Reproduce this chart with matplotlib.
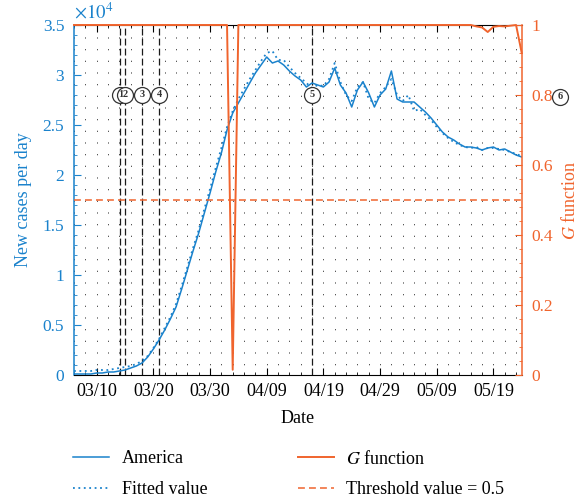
import matplotlib
matplotlib.use("Agg")
import matplotlib.pyplot as plt
from matplotlib.ticker import FixedLocator, MultipleLocator, FuncFormatter

plt.rcParams["font.family"] = ["Liberation Serif", "DejaVu Serif"]
plt.rcParams["mathtext.fontset"] = "stix"

BLUE = "#1A82CC"
ORANGE = "#F0642D"

# day 0 = 03/01, data runs 03/06 .. 05/24
days = list(range(5, 85))

america = [0.01, 0.01, 0.01, 0.01, 0.02, 0.02, 0.03, 0.03, 0.04, 0.05,
           0.07, 0.09, 0.12, 0.18, 0.26, 0.35, 0.45, 0.56, 0.68, 0.86,
           1.05, 1.24, 1.42, 1.62, 1.82, 2.03, 2.22, 2.45, 2.62, 2.72,
           2.82, 2.92, 3.02, 3.10, 3.18, 3.12, 3.14, 3.10, 3.04, 2.99,
           2.95, 2.88, 2.92, 2.90, 2.88, 2.93, 3.07, 2.90, 2.82, 2.68,
           2.85, 2.93, 2.82, 2.68, 2.80, 2.86, 3.04, 2.76, 2.73, 2.73,
           2.73, 2.68, 2.63, 2.57, 2.50, 2.43, 2.38, 2.35, 2.31, 2.28,
           2.28, 2.27, 2.25, 2.27, 2.28, 2.25, 2.26, 2.23, 2.20, 2.18]

fitted = [0.04, 0.04, 0.04, 0.04, 0.05, 0.05, 0.05, 0.06, 0.07, 0.08,
          0.09, 0.11, 0.14, 0.19, 0.27, 0.36, 0.47, 0.58, 0.71, 0.89,
          1.08, 1.27, 1.45, 1.66, 1.86, 2.07, 2.27, 2.48, 2.64, 2.76,
          2.86, 2.96, 3.05, 3.14, 3.22, 3.24, 3.15, 3.15, 3.08, 3.02,
          2.97, 2.92, 2.87, 2.90, 2.89, 2.96, 3.12, 2.93, 2.80, 2.74,
          2.88, 2.93, 2.76, 2.72, 2.82, 2.88, 2.96, 2.80, 2.74, 2.80,
          2.64, 2.66, 2.60, 2.55, 2.48, 2.42, 2.37, 2.33, 2.30, 2.28,
          2.27, 2.28, 2.25, 2.27, 2.27, 2.26, 2.25, 2.23, 2.21, 2.19]

g_func = [1.0, 1.0, 1.0, 1.0, 1.0, 1.0, 1.0, 1.0, 1.0, 1.0,
          1.0, 1.0, 1.0, 1.0, 1.0, 1.0, 1.0, 1.0, 1.0, 1.0,
          1.0, 1.0, 1.0, 1.0, 1.0, 1.0, 1.0, 1.0, 0.015, 1.0,
          1.0, 1.0, 1.0, 1.0, 1.0, 1.0, 1.0, 1.0, 1.0, 1.0,
          1.0, 1.0, 1.0, 1.0, 1.0, 1.0, 1.0, 1.0, 1.0, 1.0,
          1.0, 1.0, 1.0, 1.0, 1.0, 1.0, 1.0, 1.0, 1.0, 1.0,
          1.0, 1.0, 1.0, 1.0, 1.0, 1.0, 1.0, 1.0, 1.0, 1.0,
          1.0, 0.996, 0.993, 0.98, 0.995, 0.997, 0.996, 0.998, 1.0, 0.92]

threshold = 0.5

tick_days = [9, 19, 29, 39, 49, 59, 69, 79]
tick_labels = ["03/10", "03/20", "03/30", "04/09", "04/19", "04/29", "05/09", "05/19"]

event_days = [13.2, 14, 17, 20, 47]
marker_days = [13.2, 14, 17, 20, 47, 90.8]
marker_labels = ["1", "2", "3", "4", "5", "6"]
marker_level = 0.8

fig = plt.figure(figsize=(5.81, 4.99), dpi=100)
ax = fig.add_axes([0.1274, 0.2485, 0.7706, 0.7014])
ax2 = ax.twinx()

# dotted grid
ax.set_axisbelow(True)
ax.xaxis.set_major_locator(FixedLocator(tick_days))
ax.xaxis.set_minor_locator(MultipleLocator(2, offset=1))
ax.grid(which="both", axis="x", color="0.3", linewidth=0.7,
        linestyle=(1.5, (1.3, 10.7)))

l_am, = ax.plot(days, america, color=BLUE, lw=1.1, zorder=3)
l_fit, = ax.plot(days, fitted, color=BLUE, lw=1.3, ls=(0, (1, 2)), zorder=3)

for d in event_days:
    ax.axvline(d, color="0.1", lw=0.9, ls=(0, (5.5, 2.5)), zorder=2)

ax.set_xlim(5, 84)
ax.set_ylim(0, 3.5)
ax.set_xticklabels(tick_labels)
ax.yaxis.set_major_locator(MultipleLocator(0.5))
ax.yaxis.set_minor_locator(MultipleLocator(0.1))
ax.yaxis.set_major_formatter(FuncFormatter(lambda v, p: "%g" % v))
ax.tick_params(axis="x", which="both", direction="in", top=True, labelsize=13, pad=6)
ax.tick_params(axis="x", which="major", length=5)
ax.tick_params(axis="x", which="minor", length=2.5)
ax.tick_params(axis="y", which="both", direction="in", colors=BLUE, labelsize=12.5, pad=7)
ax.tick_params(axis="y", which="major", length=5)
ax.tick_params(axis="y", which="minor", length=2.5)
ax.spines["left"].set_color(BLUE)
ax.spines["right"].set_visible(False)
ax.spines["left"].set_linewidth(1.1)
ax.set_ylabel("New cases per day", color=BLUE, fontsize=13)
ax.yaxis.set_label_coords(-0.093, 0.5)
ax.set_xlabel("Date", fontsize=13)
ax.xaxis.set_label_coords(0.5, -0.1)
ax.text(0.0, 1.008, r"$\times10^{4}$", transform=ax.transAxes, color=BLUE,
        fontsize=13.5, ha="left", va="bottom")

l_g, = ax2.plot(days, g_func, color=ORANGE, lw=1.4, clip_on=False, zorder=3)
l_th = ax2.axhline(threshold, color=ORANGE, lw=1.1, ls=(0, (4.5, 2.7)))

for d, lab in zip(marker_days, marker_labels):
    lev = marker_level if lab != "6" else 0.795
    ax2.plot(d, lev, "o", ms=11.5, mfc="white", mec="0.2", mew=0.9,
             clip_on=False, zorder=5)
    ax2.text(d, lev, lab, ha="center", va="center", fontsize=7.5,
             color="0.2", zorder=6, clip_on=False, fontweight="bold")

ax2.set_ylim(0, 1)
ax2.yaxis.set_major_locator(MultipleLocator(0.2))
ax2.yaxis.set_minor_locator(MultipleLocator(0.04))
ax2.yaxis.set_major_formatter(FuncFormatter(lambda v, p: "%g" % round(v, 2)))
ax2.tick_params(axis="y", which="both", direction="in", colors=ORANGE, labelsize=12.5, pad=7)
ax2.tick_params(axis="y", which="major", length=5)
ax2.tick_params(axis="y", which="minor", length=2.5)
ax2.spines["right"].set_color(ORANGE)
ax2.spines["right"].set_linewidth(1.1)
ax2.spines["left"].set_visible(False)
ax2.spines["top"].set_visible(False)
ax2.spines["bottom"].set_visible(False)
ax2.set_ylabel("$G$ function", color=ORANGE, fontsize=13)
ax2.yaxis.set_label_coords(1.088, 0.5)

leg_kw = dict(loc="center left", frameon=False, borderpad=0, borderaxespad=0,
              handlelength=2.0, handletextpad=0.7, labelspacing=0.75, fontsize=13)
fig.legend(handles=[l_am, l_fit], labels=["America", "Fitted value"],
           bbox_to_anchor=(0.126, 0.05), **leg_kw)
fig.legend(handles=[l_g, l_th], labels=["$G$ function", "Threshold value = 0.5"],
           bbox_to_anchor=(0.5124, 0.05), **leg_kw)

fig.savefig("out.png", dpi=100)
